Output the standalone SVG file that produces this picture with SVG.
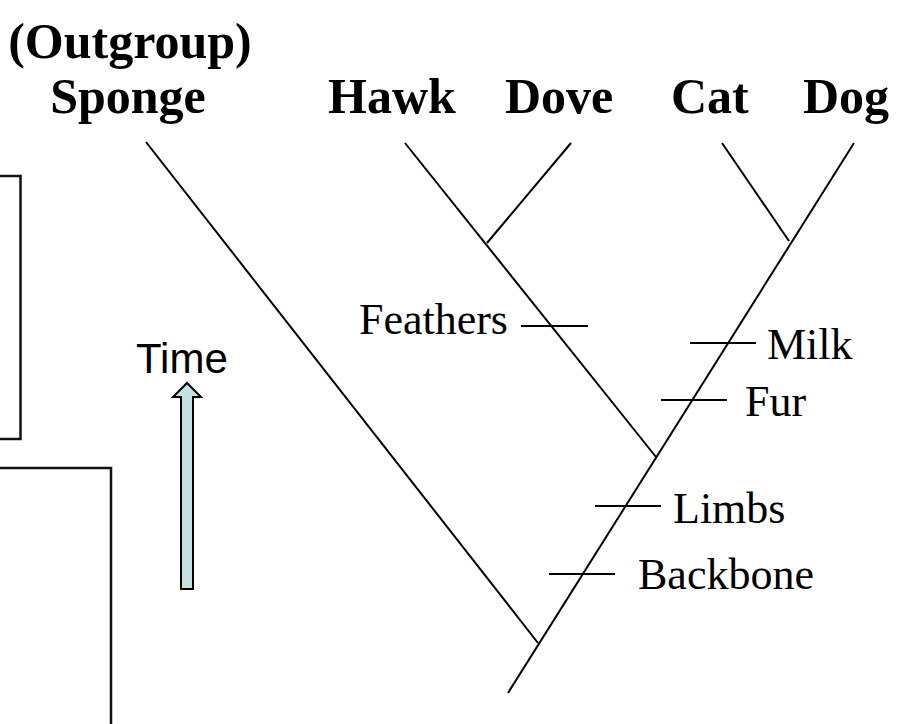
<svg xmlns="http://www.w3.org/2000/svg" width="924" height="724" viewBox="0 0 924 724">
<style>
.hdr{font-family:"Liberation Serif","Times New Roman",serif;font-weight:bold;font-size:50px;fill:#000}
.lbl{font-family:"Liberation Serif","Times New Roman",serif;font-size:44px;fill:#000}
.ln{stroke:#000;stroke-width:2;fill:none}
.box{stroke:#111;stroke-width:2.5;fill:none}
</style>
<rect width="924" height="724" fill="#fff"/>
<g id="box1"><rect class="box" x="-5" y="176" width="25.5" height="263"/></g>
<g id="box2"><rect class="box" x="-5" y="468" width="116" height="270"/></g>
<g id="time">
<text x="136" y="373" style="font-family:'Liberation Sans',Arial,sans-serif;font-size:42px;fill:#000">Time</text>
<polygon points="187,383 201,397 193,397 193,589 181,589 181,397 173,397" fill="#c5e0e2" stroke="#000" stroke-width="2"/>
</g>
<g id="taxa">
<text class="hdr" x="130" y="58" text-anchor="middle">(Outgroup)</text>
<text class="hdr" x="128" y="113" text-anchor="middle">Sponge</text>
<text class="hdr" x="328" y="113">Hawk</text>
<text class="hdr" x="505" y="113">Dove</text>
<text class="hdr" x="671" y="113">Cat</text>
<text class="hdr" x="803" y="113">Dog</text>
</g>
<g id="connectors">
<line class="ln" x1="854" y1="143" x2="508" y2="693"/>
<line class="ln" x1="146" y1="142" x2="538" y2="643"/>
<line class="ln" x1="405" y1="143" x2="656" y2="457"/>
<line class="ln" x1="571" y1="143" x2="487" y2="243"/>
<line class="ln" x1="722" y1="143" x2="789" y2="241"/>
</g>
<g id="traits">
<line class="ln" x1="521" y1="326" x2="588" y2="326"/>
<text class="lbl" x="508" y="334" text-anchor="end">Feathers</text>
<line class="ln" x1="690" y1="343" x2="756" y2="343"/>
<text class="lbl" x="767" y="359">Milk</text>
<line class="ln" x1="661" y1="400" x2="727" y2="400"/>
<text class="lbl" x="745" y="416">Fur</text>
<line class="ln" x1="595" y1="506" x2="661" y2="506"/>
<text class="lbl" x="673" y="523">Limbs</text>
<line class="ln" x1="549" y1="574" x2="615" y2="574"/>
<text class="lbl" x="638" y="589">Backbone</text>
</g>
</svg>
